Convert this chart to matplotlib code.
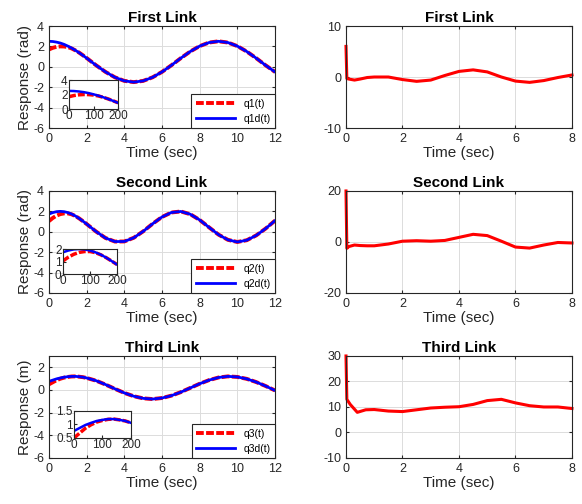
import matplotlib.pyplot as plt
import numpy as np

plt.rcParams['font.family'] = ['Liberation Sans', 'DejaVu Sans']
plt.rcParams['axes.unicode_minus'] = False

# sample times (sec) for the joint responses
t = np.concatenate([np.arange(0, 2.01, 0.2), np.arange(2.5, 12.01, 0.5)])

q1d = [2.50, 2.48, 2.42, 2.33, 2.20, 2.03, 1.84, 1.62, 1.38, 1.12, 0.85,
       0.15, -0.50, -1.03, -1.38, -1.50, -1.38, -1.03, -0.50, 0.15, 0.85,
       1.50, 2.03, 2.38, 2.50, 2.38, 2.03, 1.50, 0.85, 0.15, -0.50]
q1 = [1.70, 1.86, 1.96, 2.00, 1.99, 1.93, 1.80, 1.61, 1.39, 1.13, 0.86] + q1d[11:]

q2d = [1.74, 1.88, 1.97, 2.00, 1.97, 1.88, 1.74, 1.55, 1.31, 1.04, 0.76,
       0.02, -0.61, -0.96, -0.95, -0.59, 0.04, 0.78, 1.45, 1.89, 1.99,
       1.72, 1.16, 0.43, -0.28, -0.79, -1.00, -0.83, -0.36, 0.31, 1.09]
q2 = [1.05, 1.35, 1.58, 1.73, 1.80, 1.80, 1.71, 1.54, 1.31, 1.04, 0.76] + q2d[11:]

q3d = [0.76, 0.87, 0.98, 1.06, 1.13, 1.17, 1.20, 1.20, 1.17, 1.13, 1.06,
       0.82, 0.48, 0.10, -0.26, -0.55, -0.74, -0.80, -0.71, -0.50, -0.19,
       0.18, 0.55, 0.87, 1.10, 1.20, 1.15, 0.98, 0.70, 0.35, -0.04]
q3 = [0.50, 0.68, 0.86, 0.99, 1.09, 1.15, 1.19, 1.20, 1.17, 1.13, 1.06] + q3d[11:]

# right column signals
tu = [0, 0.03, 0.1, 0.3, 0.5, 0.75, 1.0, 1.5, 2.0, 2.5, 3.0, 3.5,
      4.0, 4.5, 5.0, 5.5, 6.0, 6.5, 7.0, 7.5, 8.0]
u1 = [6, -0.3, -0.4, -0.6, -0.4, -0.1, 0.0, 0.0, -0.5, -0.85, -0.6, 0.3,
      1.1, 1.4, 1.0, 0.0, -0.8, -1.05, -0.7, -0.1, 0.4]
u2 = [20, -2.5, -1.8, -1.2, -1.4, -1.5, -1.5, -0.8, 0.3, 0.5, 0.3, 0.6,
      1.8, 3.0, 2.5, 0.3, -2.0, -2.4, -1.2, -0.2, -0.4]
tu3 = [0, 0.03, 0.15, 0.4, 0.7, 1.0, 1.5, 2.0, 2.5, 3.0, 3.5, 4.0,
       4.5, 5.0, 5.5, 6.0, 6.5, 7.0, 7.5, 8.0]
u3 = [30, 13, 11, 7.9, 8.9, 9.0, 8.4, 8.2, 8.9, 9.6, 9.9, 10.1,
      11.0, 12.5, 13.0, 11.6, 10.5, 10.0, 10.0, 9.4]

titles = ['First Link', 'Second Link', 'Third Link']
ylabels = ['Response (rad)', 'Response (rad)', 'Response (m)']
names = [('q1(t)', 'q1d(t)'), ('q2(t)', 'q2d(t)'), ('q3(t)', 'q3d(t)')]
actual = [q1, q2, q3]
desired = [q1d, q2d, q3d]
left_ylims = [(-6, 4), (-6, 4), (-6, 3)]
inset_ylims = [(0, 4), (0, 2), (0.5, 1.5)]
inset_yticks = [[0, 2, 4], [0, 1, 2], [0.5, 1, 1.5]]
inset_ytlabels = [['0', '2', '4'], ['0', '1', '2'], ['0.5', '1', '1.5']]

right_t = [tu, tu, tu3]
right_u = [u1, u2, u3]
right_ylims = [(-10, 10), (-20, 20), (-10, 30)]
right_yticks = [[-10, 0, 10], [-20, 0, 20], [-10, 0, 10, 20, 30]]

gray = '#262626'


def style(ax):
    ax.tick_params(direction='in', length=2.5, labelsize=9, colors=gray,
                   top=True, right=True)
    for s in ax.spines.values():
        s.set_color(gray)
        s.set_linewidth(0.8)
    ax.grid(True, color='#dcdcdc', linewidth=0.7)
    ax.set_axisbelow(True)


fig = plt.figure(figsize=(5.82, 5.04), dpi=100)

row_bottoms = [0.746, 0.4187, 0.0913]
inset_pos = [[0.1186, 0.7837, 0.0842, 0.0575],
             [0.1082, 0.4563, 0.0928, 0.0496],
             [0.1271, 0.1310, 0.0979, 0.0536]]

for i in range(3):
    # left: actual vs desired response
    ax = fig.add_axes([0.0842, row_bottoms[i], 0.3883, 0.2024])
    ax.plot(t, actual[i], color='red', linestyle=(0, (2.0, 0.6)), linewidth=2.8,
            label=names[i][0])
    ax.plot(t, desired[i], color='blue', linewidth=2.0, label=names[i][1])
    ax.set_xlim(0, 12)
    ax.set_ylim(*left_ylims[i])
    ax.set_xticks(range(0, 13, 2))
    ax.set_yticks(range(left_ylims[i][0], left_ylims[i][1] + 1, 2))
    style(ax)
    ax.set_title(titles[i], fontsize=11, fontweight='bold', pad=3)
    ax.set_xlabel('Time (sec)', fontsize=11, color=gray, labelpad=1)
    ax.set_ylabel(ylabels[i], fontsize=11, color=gray, labelpad=1)
    leg = ax.legend(loc='lower right', fontsize=7.5, handlelength=3.8,
                    borderaxespad=0, fancybox=False, framealpha=1)
    leg.get_frame().set_edgecolor(gray)
    leg.get_frame().set_linewidth(0.8)

    # zoomed view of first 200 samples
    n = 11
    ins = fig.add_axes(inset_pos[i])
    ins.plot(t[:n] * 100, actual[i][:n], color='red', linestyle=(0, (2.0, 0.6)),
             linewidth=2.5)
    ins.plot(t[:n] * 100, desired[i][:n], color='blue', linewidth=1.8)
    ins.set_xlim(0, 200)
    ins.set_ylim(*inset_ylims[i])
    ins.set_xticks([0, 100, 200])
    ins.set_yticks(inset_yticks[i])
    ins.set_yticklabels(inset_ytlabels[i])
    ins.tick_params(direction='in', length=2, labelsize=8.5, colors=gray, pad=1)
    for s in ins.spines.values():
        s.set_color(gray)
        s.set_linewidth(0.8)

    # right: control signal
    ax2 = fig.add_axes([0.5945, row_bottoms[i], 0.3883, 0.2024])
    ax2.plot(right_t[i], right_u[i], color='red', linewidth=2.2, clip_on=False)
    ax2.set_xlim(0, 8)
    ax2.set_ylim(*right_ylims[i])
    ax2.set_xticks(range(0, 9, 2))
    ax2.set_yticks(right_yticks[i])
    style(ax2)
    ax2.set_title(titles[i], fontsize=11, fontweight='bold', pad=3)
    ax2.set_xlabel('Time (sec)', fontsize=11, color=gray, labelpad=1)

fig.savefig('out.png', dpi=100)
